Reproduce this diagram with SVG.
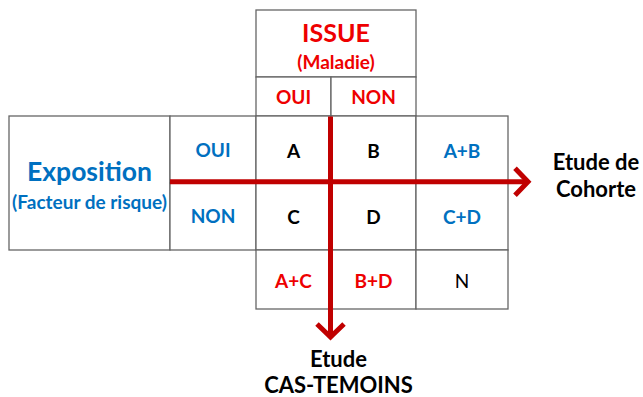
<svg xmlns="http://www.w3.org/2000/svg" width="643" height="397" viewBox="0 0 643 397">
<style>
  .cell { fill: #ffffff; stroke: #666666; stroke-width: 1.3; }
  text { font-family: Lato, "Liberation Sans", sans-serif; font-weight: bold; text-anchor: middle; }
  .red { fill: #ee0000; }
  .blue { fill: #0070c0; }
  .blk { fill: #000000; }
  .big { font-size: 25px; }
  .xbig { font-size: 26.5px; }
  .med { font-size: 19px; }
  .lbl { font-size: 22px; }
  .reg { font-weight: normal; }
  .arrow { stroke: #c00000; stroke-width: 5; fill: none; }
</style>
<defs>
  <marker id="chev" markerUnits="userSpaceOnUse" viewBox="-20 -20 30 40" markerWidth="30" markerHeight="40" refX="0" refY="0" orient="auto">
    <path d="M -13 -13.5 L 0 0 L -13 13.5" fill="none" stroke="#c00000" stroke-width="5" stroke-miterlimit="10"/>
  </marker>
</defs>
<rect width="643" height="397" fill="#ffffff"/>

<g id="issue"><rect class="cell" x="256" y="10" width="160" height="67"/>
  <text class="red big" x="336" y="42">ISSUE</text>
  <text class="red med" x="336" y="69">(Maladie)</text></g>
<g id="issue-oui"><rect class="cell" x="256" y="77" width="75" height="39"/><text class="red med" x="293.5" y="104">OUI</text></g>
<g id="issue-non"><rect class="cell" x="331" y="77" width="85" height="39"/><text class="red med" x="373.5" y="104">NON</text></g>

<g id="exposition"><rect class="cell" x="9" y="116" width="161" height="134"/>
  <text class="blue xbig" x="89.5" y="181">Exposition</text>
  <text class="blue med" x="89.5" y="209">(Facteur de risque)</text></g>
<g id="expo-oui"><rect class="cell" x="170" y="116" width="86" height="67"/><text class="blue med" x="213" y="157">OUI</text></g>
<g id="expo-non"><rect class="cell" x="170" y="183" width="86" height="67"/><text class="blue med" x="213" y="223">NON</text></g>

<g id="cell-a"><rect class="cell" x="256" y="116" width="75" height="67"/><text class="blk med" x="293.5" y="158">A</text></g>
<g id="cell-b"><rect class="cell" x="331" y="116" width="85" height="67"/><text class="blk med" x="373.5" y="158">B</text></g>
<g id="cell-ab"><rect class="cell" x="416" y="116" width="92" height="67"/><text class="blue med" x="462" y="158">A+B</text></g>
<g id="cell-c"><rect class="cell" x="256" y="183" width="75" height="67"/><text class="blk med" x="293.5" y="224">C</text></g>
<g id="cell-d"><rect class="cell" x="331" y="183" width="85" height="67"/><text class="blk med" x="373.5" y="224">D</text></g>
<g id="cell-cd"><rect class="cell" x="416" y="183" width="92" height="67"/><text class="blue med" x="462" y="224">C+D</text></g>
<g id="cell-ac"><rect class="cell" x="256" y="250" width="75" height="59"/><text class="red med" x="293.5" y="288">A+C</text></g>
<g id="cell-bd"><rect class="cell" x="331" y="250" width="85" height="59"/><text class="red med" x="373.5" y="288">B+D</text></g>
<g id="cell-n"><rect class="cell" x="416" y="250" width="92" height="59"/><text class="blk med reg" x="462" y="288">N</text></g>

<g id="connectors">
  <line class="arrow" x1="170" y1="181.7" x2="528" y2="181.7" marker-end="url(#chev)"/>
  <line class="arrow" x1="330.5" y1="116.5" x2="330.5" y2="337" marker-end="url(#chev)"/>
</g>

<g id="cohorte">
  <text class="blk lbl" x="596" y="170">Etude de</text>
  <text class="blk lbl" x="596" y="197">Cohorte</text>
</g>
<g id="cas-temoins">
  <text class="blk lbl" x="338.5" y="367">Etude</text>
  <text class="blk lbl" x="338.5" y="393">CAS-TEMOINS</text>
</g>
</svg>
